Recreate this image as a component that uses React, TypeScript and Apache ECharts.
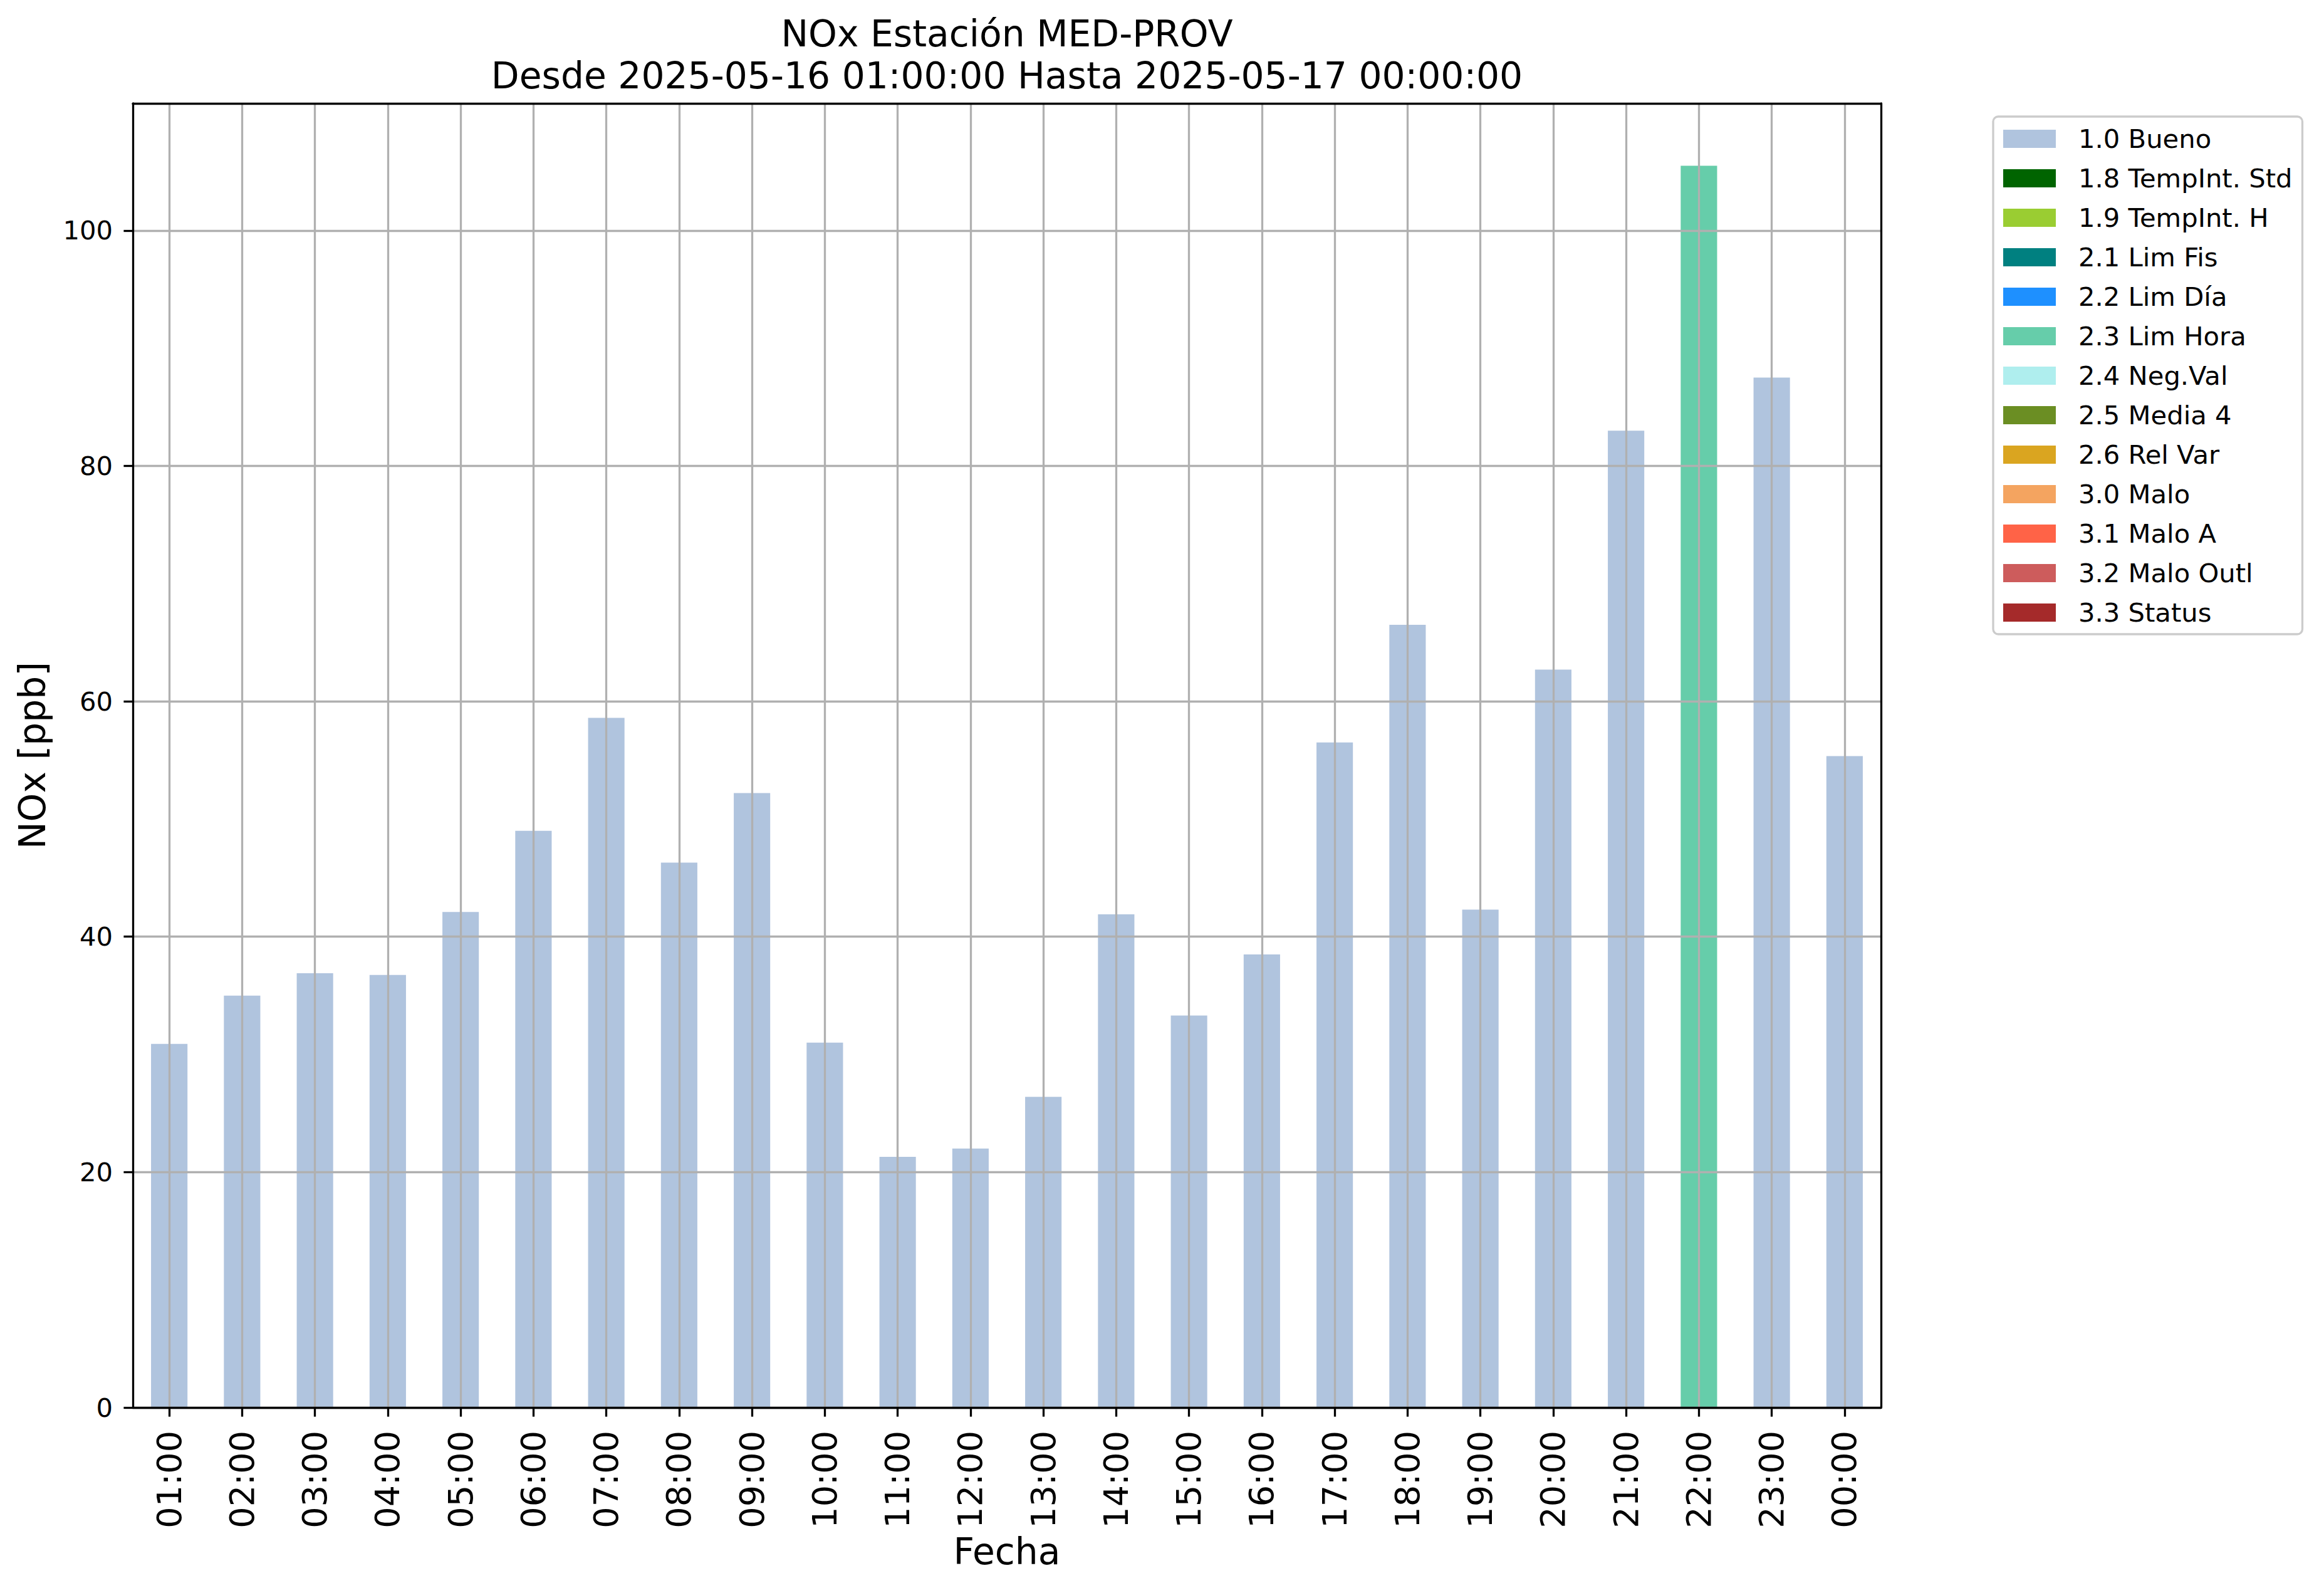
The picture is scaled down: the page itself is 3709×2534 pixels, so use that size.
import React, { useEffect, useRef } from "react";
import * as echarts from "echarts";

const categories = [
  "01:00", "02:00", "03:00", "04:00", "05:00", "06:00", "07:00", "08:00",
  "09:00", "10:00", "11:00", "12:00", "13:00", "14:00", "15:00", "16:00",
  "17:00", "18:00", "19:00", "20:00", "21:00", "22:00", "23:00", "00:00",
];

const buenoValues: (number | null)[] = [
  30.9, 35.0, 36.9, 36.75, 42.1, 49.0, 58.6, 46.3, 52.2, 31.0, 21.3, 22.0,
  26.4, 41.9, 33.3, 38.5, 56.5, 66.5, 42.3, 62.7, 83.0, null, 87.5, 55.35,
];

const limHoraValues: (number | null)[] = [
  null, null, null, null, null, null, null, null, null, null, null, null,
  null, null, null, null, null, null, null, null, null, 105.5, null, null,
];

const yTicks = [0, 20, 40, 60, 80, 100];
const yMax = 110.8;

const flagNames = [
  "1.0 Bueno", "1.8 TempInt. Std", "1.9 TempInt. H", "2.1 Lim Fis",
  "2.2 Lim Día", "2.3 Lim Hora", "2.4 Neg.Val", "2.5 Media 4",
  "2.6 Rel Var", "3.0 Malo", "3.1 Malo A", "3.2 Malo Outl", "3.3 Status",
];
const flagColors = [
  "#b0c4de", "#006400", "#9acd32", "#008080", "#1e90ff", "#66cdaa",
  "#afeeee", "#6b8e23", "#daa520", "#f4a460", "#ff6347", "#cd5c5c", "#a52a2a",
];

const titleText =
  "NOx Estación MED-PROV\nDesde 2025-05-16 01:00:00 Hasta 2025-05-17 00:00:00";

const FONT = "DejaVu Sans";
const LW = 3.3;

export default function App() {
  const ref = useRef<HTMLDivElement>(null);

  useEffect(() => {
    document.body.style.margin = "0";
    if (!ref.current) return;
    const chart = echarts.init(ref.current, null, { renderer: "svg" });

    const dataFor = (name: string) => {
      if (name === "1.0 Bueno") return buenoValues;
      if (name === "2.3 Lim Hora") return limHoraValues;
      return [];
    };

    const series: any[] = flagNames.map((name, i) => ({
      name,
      type: "bar",
      stack: "flags",
      barWidth: "50%",
      data: dataFor(name),
      itemStyle: { color: flagColors[i] },
      emphasis: { disabled: true },
    }));

    series[0].markLine = {
      silent: true,
      symbol: ["none", "none"],
      label: { show: false },
      emphasis: { disabled: true },
      lineStyle: { color: "#b0b0b0", width: LW, type: "solid" },
      data: [
        ...categories.map((c) => ({ xAxis: c })),
        ...yTicks.map((v) => ({ yAxis: v })),
      ],
    };

    const option: any = {
      animation: false,
      backgroundColor: "#ffffff",
      textStyle: { fontFamily: FONT, color: "#000" },
      title: {
        text: titleText,
        left: 1607,
        top: 20,
        padding: 0,
        textAlign: "center",
        textStyle: {
          fontFamily: FONT,
          fontSize: 58.3,
          fontWeight: "normal",
          color: "#000",
          lineHeight: 67,
        },
      },
      legend: {
        orient: "vertical",
        left: 3181,
        top: 186,
        padding: [14.5, 16, 13.5, 16],
        itemWidth: 84,
        itemHeight: 29,
        itemGap: 21,
        icon: "rect",
        selectedMode: false,
        backgroundColor: "#ffffff",
        borderColor: "#cccccc",
        borderWidth: LW,
        borderRadius: 8,
        data: flagNames,
        textStyle: {
          fontFamily: FONT,
          fontSize: 41.7,
          lineHeight: 42,
          color: "#000",
          padding: [0, 0, 0, 31],
        },
      },
      grid: {
        left: 212,
        top: 165,
        width: 2790,
        height: 2081,
        containLabel: false,
      },
      xAxis: [
        {
          type: "category",
          data: categories,
          position: "bottom",
          z: 10,
          name: "Fecha",
          nameLocation: "middle",
          nameGap: 194,
          nameTextStyle: { fontFamily: FONT, fontSize: 58.3, color: "#000" },
          axisLine: { show: true, onZero: false, lineStyle: { color: "#000", width: LW } },
          axisTick: {
            show: true,
            alignWithLabel: true,
            length: 14.6,
            lineStyle: { color: "#000", width: LW },
          },
          axisLabel: {
            interval: 0,
            rotate: 90,
            margin: 37,
            fontFamily: FONT,
            fontSize: 54,
            color: "#000",
          },
          splitLine: { show: false },
        },
        {
          type: "category",
          data: categories,
          position: "top",
          z: 10,
          axisLine: { show: true, onZero: false, lineStyle: { color: "#000", width: LW } },
          axisTick: { show: false },
          axisLabel: { show: false },
          splitLine: { show: false },
        },
      ],
      yAxis: [
        {
          type: "value",
          min: 0,
          max: yMax,
          position: "left",
          z: 10,
          name: "NOx [ppb]",
          nameLocation: "middle",
          nameGap: 131,
          nameRotate: 90,
          nameTextStyle: { fontFamily: FONT, fontSize: 58.3, color: "#000" },
          axisLine: { show: true, onZero: false, lineStyle: { color: "#000", width: LW } },
          axisTick: {
            show: true,
            customValues: yTicks,
            length: 14.6,
            lineStyle: { color: "#000", width: LW },
          },
          axisLabel: {
            customValues: yTicks,
            margin: 32,
            fontFamily: FONT,
            fontSize: 41.7,
            color: "#000",
          },
          splitLine: { show: false },
        },
        {
          type: "value",
          min: 0,
          max: yMax,
          position: "right",
          z: 10,
          axisLine: { show: true, onZero: false, lineStyle: { color: "#000", width: LW } },
          axisTick: { show: false },
          axisLabel: { show: false },
          splitLine: { show: false },
        },
      ],
      series,
    };

    chart.setOption(option);
    return () => chart.dispose();
  }, []);

  return <div ref={ref} style={{ width: 3709, height: 2534 }} />;
}
